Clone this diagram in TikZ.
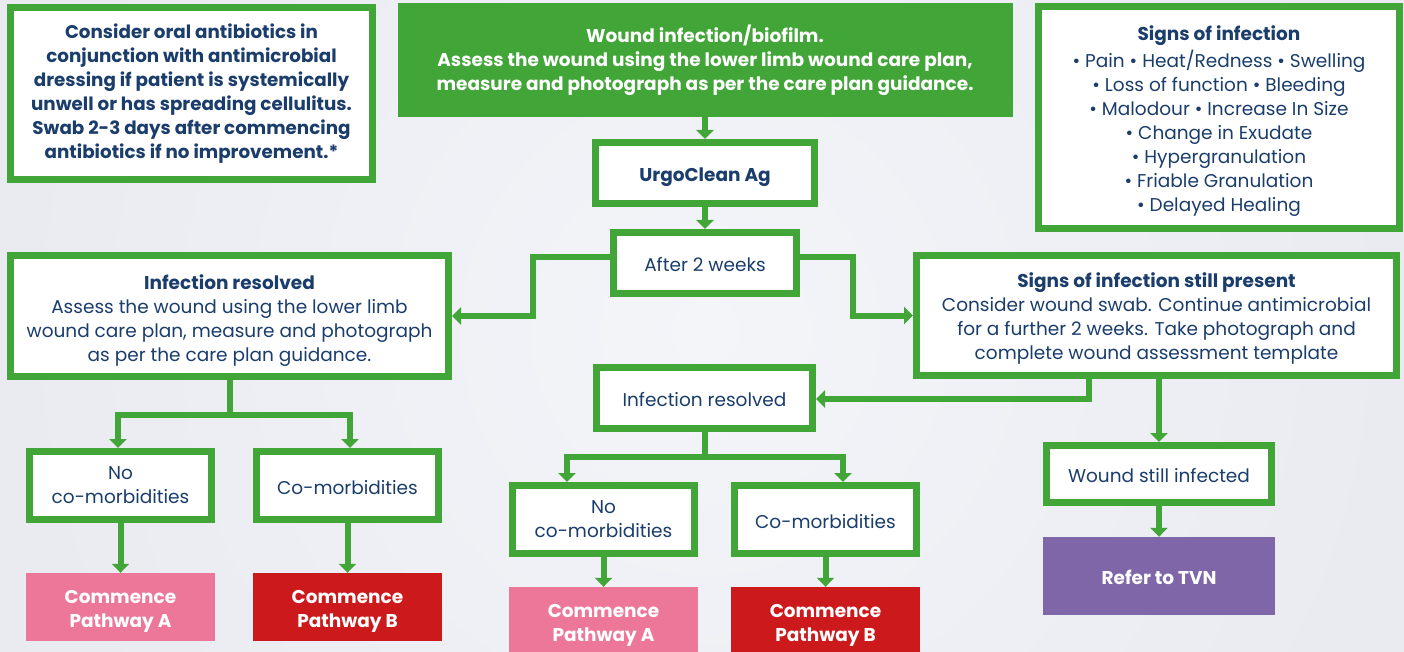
\documentclass[tikz,border=0pt]{standalone}
\usepackage{fontspec}
\setmainfont{Poppins}
\usetikzlibrary{arrows.meta}
\definecolor{grn}{RGB}{65,165,55}
\definecolor{navy}{RGB}{26,61,107}
\definecolor{pinkA}{RGB}{236,119,153}
\definecolor{redB}{RGB}{204,26,28}
\definecolor{purp}{RGB}{127,102,168}
\definecolor{bg}{RGB}{234,235,241}
\definecolor{bgin}{RGB}{244,245,249}
\newcommand\lift[1]{\rule{0pt}{#1}}
\begin{document}
\begin{tikzpicture}[x=1pt,y=-1pt,
  txt/.style={font=\fontsize{18.5}{24}\selectfont},
  box/.style={draw=grn, line width=7pt, fill=white, text=navy, align=center, inner sep=0pt, txt},
  filled/.style={align=center, inner sep=0pt, text=white, font=\bfseries\fontsize{18.5}{24}\selectfont},
  oneline/.style={text height=17.5pt, text depth=0pt},
  conn/.style={draw=grn, line width=6pt, -{Triangle[width=17pt,length=9pt]}},
  trunk/.style={draw=grn, line width=6pt},
]
\useasboundingbox (0,0) rectangle (1404,652);
\clip (0,0) rectangle (1404,652);
\fill[bg] (0,0) rectangle (1404,652);
\shade[inner color=bgin, outer color=bg] (705,330) circle (700pt);

% nodes
\node[box, font=\bfseries\fontsize{18.3}{24}\selectfont, minimum width=362pt, minimum height=172pt] (note) at (191.5,93.5)
  {Consider oral antibiotics in\\conjunction with antimicrobial\\dressing if patient is systemically\\unwell or has spreading cellulitus.\\Swab 2-3 days after commencing\\antibiotics if no improvement.*};
\node[filled, fill=grn, minimum width=615pt, minimum height=114pt] (top) at (705,60)
  {Wound infection/biofilm.\\Assess the wound using the lower limb wound care plan,\\measure and photograph as per the care plan guidance.};
\node[box, minimum width=361pt, minimum height=222pt] (signs) at (1219,117.5)
  {\lift{22pt}\textbf{Signs of infection}\\[3pt]\textbullet{} Pain \textbullet{} Heat/Redness \textbullet{} Swelling\\\textbullet{} Loss of function \textbullet{} Bleeding\\\textbullet{} Malodour \textbullet{} Increase In Size\\\textbullet{} Change in Exudate\\\textbullet{} Hypergranulation\\\textbullet{} Friable Granulation\\\textbullet{} Delayed Healing};
\node[box, oneline, minimum width=219pt, minimum height=61pt] (urgo) at (705,173) {\textbf{UrgoClean Ag}};
\node[box, oneline, minimum width=183pt, minimum height=61pt] (after) at (705,263) {After 2 weeks};
\node[box, minimum width=438pt, minimum height=121pt] (leftres) at (229.5,316)
  {\lift{23pt}\textbf{Infection resolved}\\Assess the wound using the lower limb\\wound care plan, measure and photograph\\as per the care plan guidance.};
\node[box, minimum width=480pt, minimum height=120pt] (still) at (1156.5,315.5)
  {\lift{20.5pt}\textbf{Signs of infection still present}\\Consider wound swab. Continue antimicrobial\\for a further 2 weeks. Take photograph and\\complete wound assessment template};
\node[box, oneline, minimum width=216pt, minimum height=61pt] (midres) at (704.5,398) {Infection resolved};
\node[box, oneline, minimum width=225pt, minimum height=57pt] (wsi) at (1159,474) {Wound still infected};
\node[filled, oneline, fill=purp, minimum width=232pt, minimum height=78pt] (tvn) at (1159,576) {Refer to TVN};

\node[box, minimum width=182pt, minimum height=68pt] (lno) at (120.5,485.5) {No\\co-morbidities};
\node[box, oneline, minimum width=182pt, minimum height=68pt] (lco) at (347.5,485.5) {Co-morbidities};
\node[filled, fill=pinkA, minimum width=189pt, minimum height=68pt] (lA) at (120.5,607) {\lift{21pt}Commence\\Pathway A};
\node[filled, fill=redB, minimum width=189pt, minimum height=68pt] (lB) at (347.5,607) {\lift{21pt}Commence\\Pathway B};

\node[box, minimum width=182pt, minimum height=68pt] (mno) at (603.5,519.5) {No\\co-morbidities};
\node[box, oneline, minimum width=182pt, minimum height=68pt] (mco) at (825.5,519.5) {Co-morbidities};
\node[filled, fill=pinkA, minimum width=189pt, minimum height=68pt] (mA) at (603.5,621) {\lift{21pt}Commence\\Pathway A};
\node[filled, fill=redB, minimum width=189pt, minimum height=68pt] (mB) at (825.5,621) {\lift{21pt}Commence\\Pathway B};

% connectors
\draw[conn] (top.south) -- (urgo.north);
\draw[conn] (urgo.south) -- (after.north);
\coordinate (jl) at (533,257);
\coordinate (jr) at (853,257);
\draw[conn] (jl -| after.west) -- (jl) |- (leftres.east);
\draw[conn] (jr -| after.east) -- (jr) |- (still.west);
\coordinate (js) at (1089,399);
\draw[conn] (js |- still.south) -- (js) -- (js -| midres.east);
\draw[conn] (wsi.north |- still.south) -- (wsi.north);
\draw[conn] (wsi.south) -- (tvn.north);

\coordinate (ljun) at (229.5,415);
\coordinate (llx) at (118,415);
\coordinate (lrx) at (350,415);
\draw[trunk] (leftres.south) -- (ljun);
\draw[conn] (ljun) -- (llx) -- (llx |- lno.north);
\draw[conn] (ljun) -- (lrx) -- (lrx |- lco.north);
\draw[conn] (lno.south) -- (lA.north);
\draw[conn] (lco.south) -- (lB.north);

\coordinate (mjun) at (704.5,457);
\coordinate (mlx) at (567,457);
\coordinate (mrx) at (843,457);
\draw[trunk] (midres.south) -- (mjun);
\draw[conn] (mjun) -- (mlx) -- (mlx |- mno.north);
\draw[conn] (mjun) -- (mrx) -- (mrx |- mco.north);
\draw[conn] (mno.south) -- (mA.north);
\draw[conn] (mco.south) -- (mB.north);
\end{tikzpicture}
\end{document}
